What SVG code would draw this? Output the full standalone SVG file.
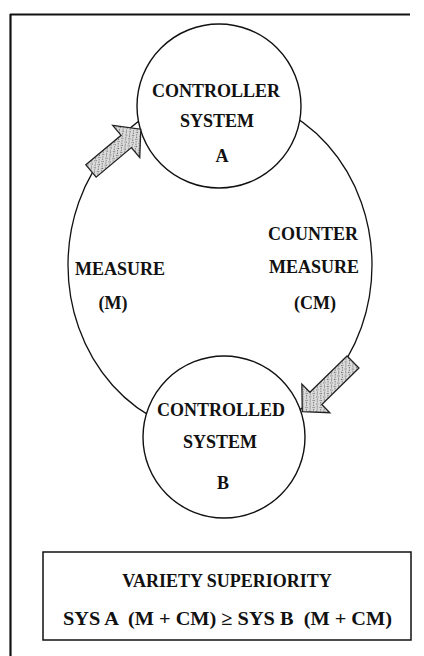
<svg xmlns="http://www.w3.org/2000/svg" width="424" height="656" viewBox="0 0 424 656">
<defs>
<pattern id="stip" width="5" height="5" patternUnits="userSpaceOnUse">
<rect width="5" height="5" fill="#dcdcdc"/>
<rect x="0" y="0" width="1" height="1" fill="#666"/>
<rect x="3" y="1" width="1" height="1" fill="#777"/>
<rect x="1" y="3" width="1" height="1" fill="#6a6a6a"/>
<rect x="4" y="4" width="1" height="1" fill="#888"/>
<rect x="2" y="2" width="1" height="1" fill="#999"/>
</pattern>
</defs>
<style>
.t{font-family:"Liberation Serif","Times New Roman",serif;font-weight:bold;font-size:18px;fill:#111;text-anchor:middle}
.node{fill:#fff;stroke:#111;stroke-width:1.4}
.arrow{fill:url(#stip);stroke:#222;stroke-width:1.3;stroke-linejoin:miter}
.line{fill:none;stroke:#111;stroke-width:1.3}
</style>
<rect width="424" height="656" fill="#fff"/>
<g id="frame">
<path d="M10,14.5 H410" stroke="#111" stroke-width="2" fill="none"/>
<path d="M10.5,14 V656" stroke="#111" stroke-width="2.2" fill="none"/>
</g>
<g id="connectors">
<ellipse class="line" cx="220" cy="265" rx="152" ry="170"/>
</g>
<g id="controller">
<circle class="node" cx="219" cy="106" r="82"/>
<text class="t" x="216" y="97">CONTROLLER</text>
<text class="t" x="217" y="127">SYSTEM</text>
<text class="t" x="222" y="162">A</text>
</g>
<g id="controlled">
<circle class="node" cx="224" cy="437" r="81"/>
<text class="t" x="221" y="416">CONTROLLED</text>
<text class="t" x="220" y="448">SYSTEM</text>
<text class="t" x="223" y="489">B</text>
</g>
<g id="arrows">
<polygon class="arrow" transform="translate(91,171) rotate(-40)" points="0,-8 46,-8 46,-21 65,0 46,21 46,8 0,8"/>
<polygon class="arrow" transform="translate(353,362) rotate(135.6)" points="0,-8.5 52,-8.5 52,-20 71,0 52,20 52,8.5 0,8.5"/>
</g>
<g id="labels">
<text class="t" x="120" y="275">MEASURE</text>
<text class="t" x="113" y="309">(M)</text>
<text class="t" x="313" y="240">COUNTER</text>
<text class="t" x="314" y="273">MEASURE</text>
<text class="t" x="315" y="309">(CM)</text>
</g>
<g id="variety">
<rect x="43" y="552" width="368" height="88" fill="#fff" stroke="#111" stroke-width="1.5"/>
<text class="t" x="227" y="587">VARIETY SUPERIORITY</text>
<text class="t" x="227.5" y="625" style="font-size:19.5px" textLength="329" lengthAdjust="spacingAndGlyphs" xml:space="preserve">SYS A  (M + CM) ≥ SYS B  (M + CM)</text>
</g>
</svg>
